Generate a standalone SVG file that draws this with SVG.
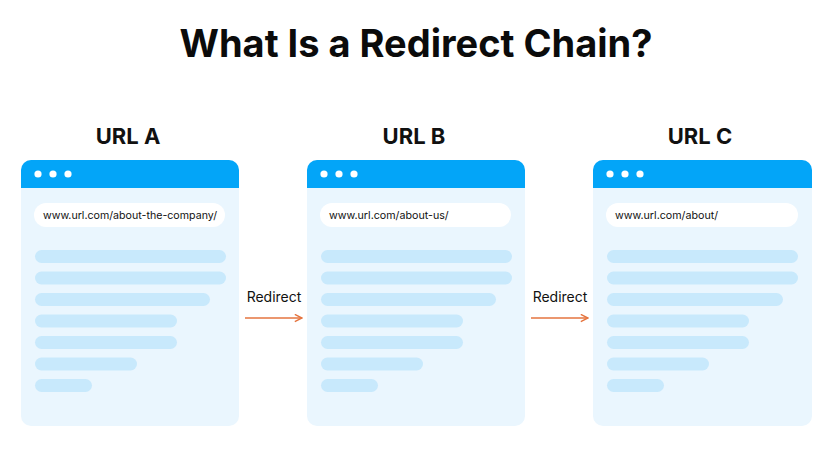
<svg xmlns="http://www.w3.org/2000/svg" width="829" height="456" viewBox="0 0 829 456">
<defs>
<style>
.title{font-family:Inter,"Liberation Sans",sans-serif;font-weight:700;font-size:38px;fill:#0b0b0b}
.hdr{font-family:Inter,"Liberation Sans",sans-serif;font-weight:700;font-size:22px;fill:#111}
.body{fill:#EAF6FE}
.top{fill:#03A5F8}
.dot{fill:#ffffff}
.url{fill:#ffffff}
.urlt{font-family:Inter,"Liberation Sans",sans-serif;font-size:10.7px;fill:#111}
.bar{fill:#C8E9FC}
.lbl{font-family:Inter,"Liberation Sans",sans-serif;font-size:14px;fill:#111}
.arr{stroke:#E5743F;stroke-width:1.6;fill:none}
</style>
<marker id="ah" viewBox="0 0 10 10" refX="9" refY="5" markerWidth="9" markerHeight="9" markerUnits="userSpaceOnUse" orient="auto">
<path d="M1,1 L9,5 L1,9" fill="none" stroke="#E5743F" stroke-width="1.6"/>
</marker>
</defs>
<rect width="829" height="456" fill="#ffffff"/>
<text class="title" x="416" y="57" text-anchor="middle">What Is a Redirect Chain?</text>

<g id="urlA">
<text class="hdr" x="128" y="144" text-anchor="middle">URL A</text>
<rect class="body" x="21" y="160" width="218" height="266" rx="10"/>
<path class="top" d="M21,188 V170 A10,10 0 0 1 31,160 H229 A10,10 0 0 1 239,170 V188 Z"/>
<circle class="dot" cx="38" cy="174" r="3.6"/><circle class="dot" cx="53" cy="174" r="3.6"/><circle class="dot" cx="68" cy="174" r="3.6"/>
<rect class="url" x="34" y="203" width="191" height="24" rx="12"/>
<text class="urlt" x="43" y="219" textLength="174" lengthAdjust="spacingAndGlyphs">www.url.com/about-the-company/</text>
<rect class="bar" x="35" y="250" width="191" height="13" rx="6.5"/>
<rect class="bar" x="35" y="271.5" width="191" height="13" rx="6.5"/>
<rect class="bar" x="35" y="293" width="175" height="13" rx="6.5"/>
<rect class="bar" x="35" y="314.5" width="142" height="13" rx="6.5"/>
<rect class="bar" x="35" y="336" width="142" height="13" rx="6.5"/>
<rect class="bar" x="35" y="357.5" width="102" height="13" rx="6.5"/>
<rect class="bar" x="35" y="379" width="57" height="13" rx="6.5"/>
</g>

<g id="urlB">
<text class="hdr" x="414" y="144" text-anchor="middle">URL B</text>
<rect class="body" x="307" y="160" width="218" height="266" rx="10"/>
<path class="top" d="M307,188 V170 A10,10 0 0 1 317,160 H515 A10,10 0 0 1 525,170 V188 Z"/>
<circle class="dot" cx="324" cy="174" r="3.6"/><circle class="dot" cx="339" cy="174" r="3.6"/><circle class="dot" cx="354" cy="174" r="3.6"/>
<rect class="url" x="320" y="203" width="191" height="24" rx="12"/>
<text class="urlt" x="329" y="219">www.url.com/about-us/</text>
<rect class="bar" x="321" y="250" width="191" height="13" rx="6.5"/>
<rect class="bar" x="321" y="271.5" width="191" height="13" rx="6.5"/>
<rect class="bar" x="321" y="293" width="175" height="13" rx="6.5"/>
<rect class="bar" x="321" y="314.5" width="142" height="13" rx="6.5"/>
<rect class="bar" x="321" y="336" width="142" height="13" rx="6.5"/>
<rect class="bar" x="321" y="357.5" width="102" height="13" rx="6.5"/>
<rect class="bar" x="321" y="379" width="57" height="13" rx="6.5"/>
</g>

<g id="urlC">
<text class="hdr" x="700" y="144" text-anchor="middle">URL C</text>
<rect class="body" x="593" y="160" width="219" height="266" rx="10"/>
<path class="top" d="M593,188 V170 A10,10 0 0 1 603,160 H802 A10,10 0 0 1 812,170 V188 Z"/>
<circle class="dot" cx="610" cy="174" r="3.6"/><circle class="dot" cx="625" cy="174" r="3.6"/><circle class="dot" cx="640" cy="174" r="3.6"/>
<rect class="url" x="606" y="203" width="192" height="24" rx="12"/>
<text class="urlt" x="615" y="219">www.url.com/about/</text>
<rect class="bar" x="607" y="250" width="191" height="13" rx="6.5"/>
<rect class="bar" x="607" y="271.5" width="191" height="13" rx="6.5"/>
<rect class="bar" x="607" y="293" width="176" height="13" rx="6.5"/>
<rect class="bar" x="607" y="314.5" width="142" height="13" rx="6.5"/>
<rect class="bar" x="607" y="336" width="142" height="13" rx="6.5"/>
<rect class="bar" x="607" y="357.5" width="102" height="13" rx="6.5"/>
<rect class="bar" x="607" y="379" width="57" height="13" rx="6.5"/>
</g>

<g id="connectors">
<text class="lbl" x="274" y="302" text-anchor="middle">Redirect</text>
<line class="arr" x1="245" y1="318" x2="302" y2="318" marker-end="url(#ah)"/>
<text class="lbl" x="560" y="302" text-anchor="middle">Redirect</text>
<line class="arr" x1="531" y1="318" x2="588" y2="318" marker-end="url(#ah)"/>
</g>
</svg>
